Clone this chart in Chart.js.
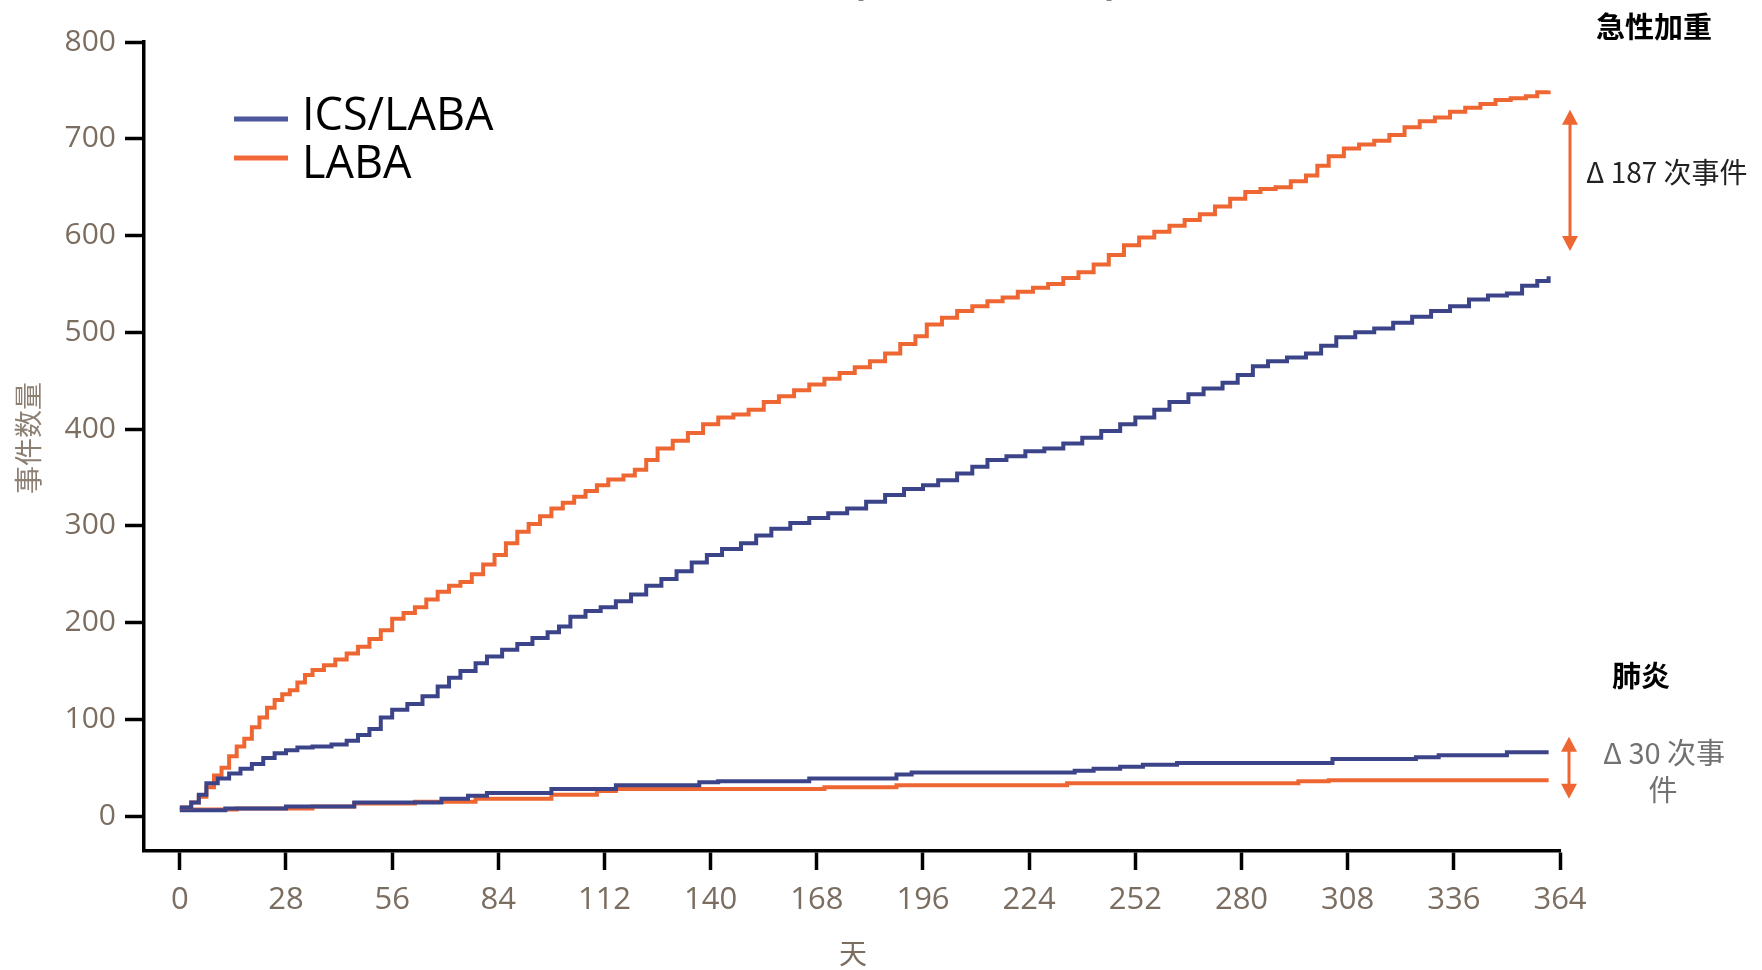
<!DOCTYPE html>
<html>
<head>
<meta charset="utf-8">
<script src="https://cdn.jsdelivr.net/npm/chart.js@4.4.0/dist/chart.umd.min.js"></script>
<style>
  html, body { margin: 0; padding: 0; background: #fff; }
  canvas { display: block; }
</style>
</head>
<body>
<canvas id="events" width="1762" height="970" style="width:1762px;height:970px"></canvas>
<script>
// day axis ticks and value ticks
var dayTicks = [0, 28, 56, 84, 112, 140, 168, 196, 224, 252, 280, 308, 336, 364];
var countTicks = [0, 100, 200, 300, 400, 500, 600, 700, 800];

// exacerbations (急性加重), cumulative events
var exaIcsDays = [0, 3, 5, 7, 10, 13, 16, 19, 22, 25, 28, 31, 35, 40, 44, 47, 50, 53, 56, 60, 64, 68, 71, 74, 78, 81, 85, 89, 93, 97, 100, 103, 107, 111, 115, 119, 123, 127, 131, 135, 139, 143, 148, 152, 156, 161, 166, 171, 176, 181, 186, 191, 196, 200, 205, 209, 213, 218, 223, 228, 233, 238, 243, 248, 252, 257, 261, 266, 270, 275, 279, 283, 287, 292, 297, 301, 305, 310, 315, 320, 325, 330, 335, 340, 345, 350, 354, 358, 361];
var exaIcsVals = [9, 14, 22, 34, 39, 44, 49, 54, 60, 65, 68, 71, 72, 74, 78, 84, 90, 102, 110, 116, 124, 134, 143, 150, 158, 165, 172, 178, 184, 190, 196, 206, 212, 216, 222, 229, 238, 245, 253, 262, 270, 276, 282, 290, 297, 303, 308, 313, 318, 325, 332, 338, 342, 347, 354, 361, 368, 372, 377, 380, 385, 391, 398, 405, 412, 420, 428, 436, 442, 448, 456, 465, 470, 474, 478, 486, 495, 500, 504, 510, 516, 522, 527, 534, 538, 540, 548, 553, 558];

var exaLabaDays = [0, 3, 5, 7, 9, 11, 13, 15, 17, 19, 21, 23, 25, 27, 29, 31, 33, 35, 38, 41, 44, 47, 50, 53, 56, 59, 62, 65, 68, 71, 74, 77, 80, 83, 86, 89, 92, 95, 98, 101, 104, 107, 110, 113, 117, 120, 123, 126, 130, 134, 138, 142, 146, 150, 154, 158, 162, 166, 170, 174, 178, 182, 186, 190, 194, 197, 201, 205, 209, 213, 217, 221, 225, 229, 233, 237, 241, 245, 249, 253, 257, 261, 265, 269, 273, 277, 281, 285, 289, 293, 297, 300, 303, 307, 311, 315, 319, 323, 327, 331, 335, 339, 343, 347, 351, 355, 358, 361];
var exaLabaVals = [9, 14, 20, 30, 42, 50, 62, 72, 80, 92, 102, 112, 120, 126, 130, 138, 146, 151, 156, 162, 168, 175, 183, 192, 204, 210, 216, 224, 232, 238, 242, 250, 260, 270, 282, 294, 302, 310, 318, 324, 330, 336, 342, 348, 352, 358, 368, 380, 388, 396, 405, 412, 415, 420, 428, 434, 440, 446, 452, 458, 464, 470, 478, 488, 496, 508, 515, 522, 527, 532, 536, 542, 546, 550, 556, 562, 570, 580, 590, 598, 604, 610, 616, 622, 630, 638, 645, 648, 650, 656, 662, 672, 682, 690, 694, 698, 704, 712, 718, 722, 728, 732, 736, 740, 742, 744, 748, 750];

// pneumonia (肺炎), cumulative events
var pneIcsDays = [0, 12, 28, 46, 69, 76, 81, 98, 115, 137, 142, 166, 189, 193, 236, 241, 248, 254, 263, 304, 326, 332, 350, 361];
var pneIcsVals = [6, 8, 10, 14, 18, 21, 24, 28, 32, 35, 36, 39, 43, 45, 47, 49, 51, 53, 55, 59, 61, 63, 66, 66];
var pneLabaDays = [0, 15, 35, 46, 62, 78, 98, 110, 115, 170, 189, 234, 295, 303, 361];
var pneLabaVals = [7, 8, 10, 13, 15, 18, 22, 26, 28, 30, 32, 34, 36, 37, 37];

// difference markers: [top, bottom] in events
var exaGap = [730, 584];
var pneGap = [82, 18];

var BLUE = '#3c4489';
var ORANGE = '#ee6733';
var TICK_COLOR = '#7b6d60';

function pts(days, vals) {
  return days.map(function (d, i) { return { x: d, y: vals[i] }; });
}

function stepSet(label, days, vals, color) {
  return {
    label: label,
    data: pts(days, vals),
    borderColor: color,
    borderWidth: 4,
    pointRadius: 0,
    stepped: true,
    fill: false
  };
}

function arrow(ctx, x, yTop, yBot) {
  var h = 15, w = 8;
  ctx.strokeStyle = ORANGE;
  ctx.fillStyle = ORANGE;
  ctx.lineWidth = 3;
  ctx.beginPath();
  ctx.moveTo(x, yTop + h - 2);
  ctx.lineTo(x, yBot - h + 2);
  ctx.stroke();
  ctx.beginPath();
  ctx.moveTo(x, yTop); ctx.lineTo(x - w, yTop + h); ctx.lineTo(x + w, yTop + h);
  ctx.closePath(); ctx.fill();
  ctx.beginPath();
  ctx.moveTo(x, yBot); ctx.lineTo(x - w, yBot - h); ctx.lineTo(x + w, yBot - h);
  ctx.closePath(); ctx.fill();
}

var notes = {
  id: 'notes',
  afterDraw: function (chart) {
    var ctx = chart.ctx, a = chart.chartArea;
    var x = chart.scales.x, y = chart.scales.y;
    ctx.save();

    // cut-off heading above the picture
    ctx.fillStyle = '#000';
    ctx.font = 'bold 40px "Open Sans"';
    ctx.textAlign = 'center';
    ctx.textBaseline = 'alphabetic';
    ctx.fillText('(', 858, -6);
    ctx.fillText(')', 1112, -6);

    // legend
    var legend = [['ICS/LABA', '#4c579c', 119, 117], ['LABA', '#f0683a', 158, 165]];
    legend.forEach(function (it) {
      ctx.strokeStyle = it[1];
      ctx.lineWidth = 5;
      ctx.beginPath();
      ctx.moveTo(234, it[2]);
      ctx.lineTo(288, it[2]);
      ctx.stroke();
      ctx.fillStyle = '#000';
      ctx.font = '45px "Open Sans"';
      ctx.textAlign = 'left';
      ctx.textBaseline = 'middle';
      ctx.fillText(it[0], 302, it[3]);
    });

    // axis titles
    ctx.fillStyle = TICK_COLOR;
    ctx.font = '28px "Noto Sans CJK SC"';
    ctx.textAlign = 'center';
    ctx.textBaseline = 'middle';
    ctx.fillText('天', (x.getPixelForValue(168) + x.getPixelForValue(196)) / 2 - 17, 953);
    ctx.save();
    ctx.translate(28, 438);
    ctx.rotate(-Math.PI / 2);
    ctx.fillStyle = '#8c7f73';
    ctx.fillText('事件数量', 0, 0);
    ctx.restore();

    // exacerbation difference
    var ax = a.right + 10;
    ctx.fillStyle = '#000';
    ctx.font = 'bold 29px "Noto Sans CJK SC"';
    ctx.fillText('急性加重', 1654, 27);
    arrow(ctx, ax, y.getPixelForValue(exaGap[0]), y.getPixelForValue(exaGap[1]));
    ctx.fillStyle = '#222';
    ctx.font = '28px "Noto Sans CJK SC"';
    ctx.textAlign = 'left';
    ctx.fillText('Δ 187 次事件', 1586, 172);

    // pneumonia difference
    ctx.textAlign = 'center';
    ctx.fillStyle = '#000';
    ctx.font = 'bold 29px "Noto Sans CJK SC"';
    ctx.fillText('肺炎', 1641, 676);
    arrow(ctx, ax - 1, y.getPixelForValue(pneGap[0]), y.getPixelForValue(pneGap[1]));
    ctx.fillStyle = '#727272';
    ctx.font = '29px "Noto Sans CJK SC"';
    ctx.fillText('Δ 30 次事', 1664, 753);
    ctx.fillText('件', 1663, 790);

    ctx.restore();
  }
};

var axisGrid = {
  display: true,
  drawOnChartArea: false,
  drawTicks: true,
  tickLength: 19,
  tickWidth: 3.5,
  tickColor: '#000'
};

new Chart(document.getElementById('events'), {
  type: 'line',
  data: {
    datasets: [
      stepSet('ICS/LABA', exaIcsDays, exaIcsVals, BLUE),
      stepSet('LABA', exaLabaDays, exaLabaVals, ORANGE),
      stepSet('ICS/LABA 肺炎', pneIcsDays, pneIcsVals, BLUE),
      stepSet('LABA 肺炎', pneLabaDays, pneLabaVals, ORANGE)
    ]
  },
  options: {
    responsive: false,
    animation: false,
    layout: { padding: { left: 0, top: 42, right: 202, bottom: 0 } },
    plugins: {
      legend: { display: false },
      tooltip: { enabled: false }
    },
    scales: {
      x: {
        type: 'linear',
        min: -9.45,
        max: 364,
        afterBuildTicks: function (s) { s.ticks = dayTicks.map(function (v) { return { value: v }; }); },
        afterFit: function (s) { s.height = 970 - 851; },
        ticks: {
          autoSkip: false,
          maxRotation: 0,
          padding: 12,
          color: TICK_COLOR,
          font: { family: '"Liberation Sans Narrow", "Open Sans"', size: 31 }
        },
        grid: axisGrid,
        border: { display: true, color: '#000', width: 3.5 }
      },
      y: {
        type: 'linear',
        min: -36,
        max: 800,
        afterBuildTicks: function (s) { s.ticks = countTicks.map(function (v) { return { value: v }; }); },
        afterFit: function (s) { s.width = 144; },
        ticks: {
          padding: 9,
          color: TICK_COLOR,
          font: { family: '"Open Sans"', size: 30 }
        },
        grid: axisGrid,
        border: { display: true, color: '#000', width: 3.5 }
      }
    }
  },
  plugins: [notes]
});
</script>
</body>
</html>
